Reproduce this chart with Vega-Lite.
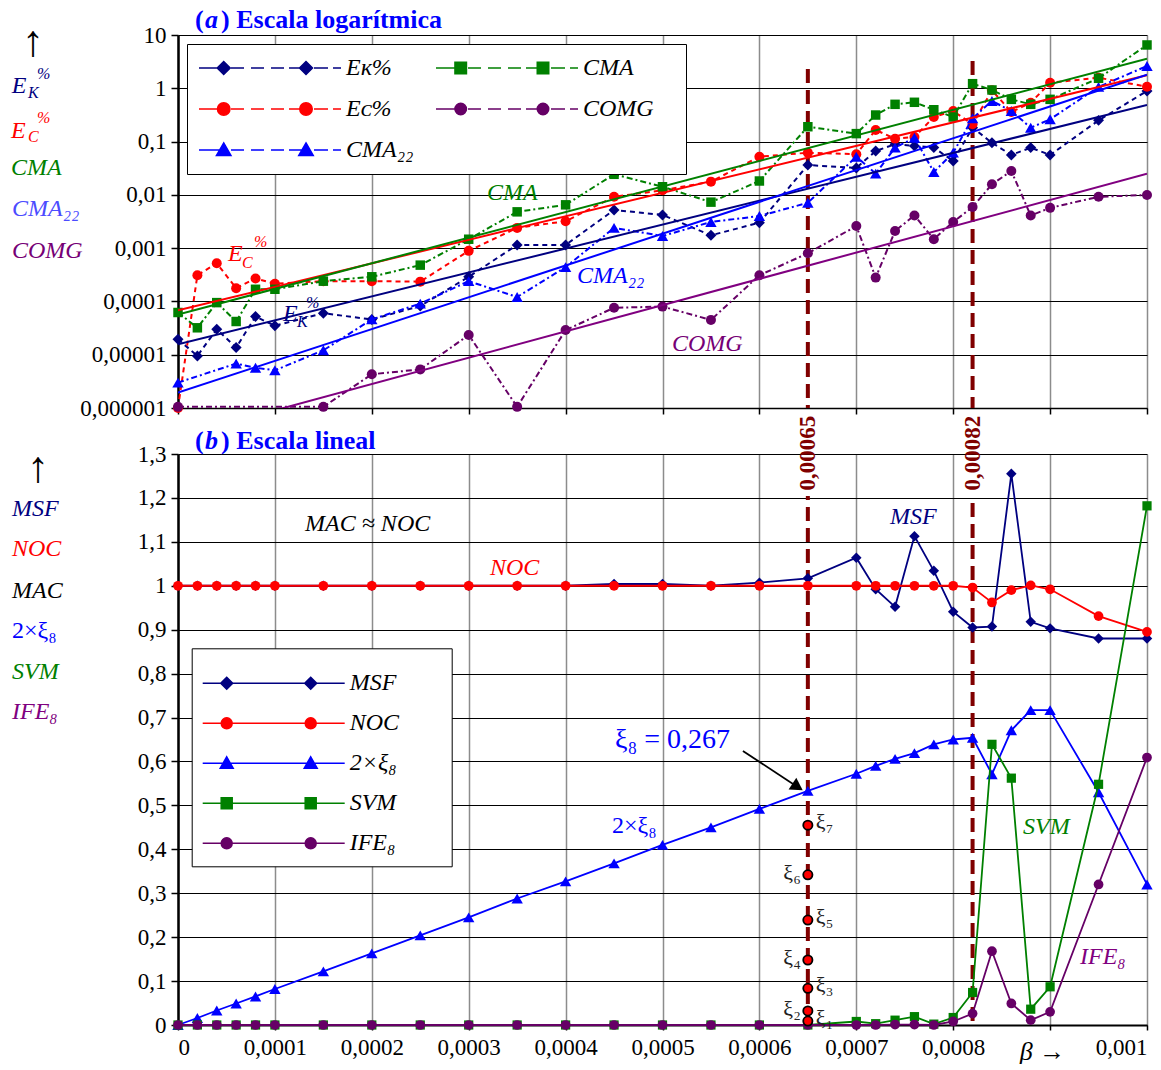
{
  "$schema": "https://vega.github.io/schema/vega-lite/v6.json",
  "padding": {"left": 11, "top": 6, "right": 0, "bottom": 0},
  "spacing": 46,
  "bounds": "flush",
  "datasets": {
    "top": [
      {"x":0,"EK":1.95e-5,"EC":1e-6,"CMA":6.2e-5,"CMA22":3.0e-6,"COMG":1.05e-6},
      {"x":0.00002,"EK":9.5e-6,"EC":3.1e-4,"CMA":3.2e-5},
      {"x":0.00004,"EK":3.0e-5,"EC":5.2e-4,"CMA":9.5e-5},
      {"x":0.00006,"EK":1.36e-5,"EC":1.77e-4,"CMA":4.2e-5,"CMA22":6.8e-6},
      {"x":0.00008,"EK":5.2e-5,"EC":2.7e-4,"CMA":1.69e-4,"CMA22":5.7e-6},
      {"x":0.0001,"EK":3.5e-5,"EC":2.15e-4,"CMA":1.69e-4,"CMA22":5.1e-6},
      {"x":0.00015,"EK":6.0e-5,"EC":2.4e-4,"CMA":2.4e-4,"CMA22":1.21e-5,"COMG":1.05e-6},
      {"x":0.0002,"EK":4.6e-5,"EC":2.4e-4,"CMA":2.9e-4,"CMA22":4.6e-5,"COMG":4.3e-6},
      {"x":0.00025,"EK":8.2e-5,"EC":2.35e-4,"CMA":4.8e-4,"CMA22":9.1e-5,"COMG":5.3e-6},
      {"x":0.0003,"EK":2.9e-4,"EC":8.9e-4,"CMA":1.47e-3,"CMA22":2.4e-4,"COMG":2.35e-5},
      {"x":0.00035,"EK":1.15e-3,"EC":2.4e-3,"CMA":4.8e-3,"CMA22":1.21e-4,"COMG":1.05e-6},
      {"x":0.0004,"EK":1.15e-3,"EC":3.2e-3,"CMA":6.5e-3,"CMA22":4.4e-4,"COMG":2.9e-5},
      {"x":0.00045,"EK":5.2e-3,"EC":9.2e-3,"CMA":0.0243,"CMA22":2.4e-3,"COMG":7.6e-5},
      {"x":0.0005,"EK":4.2e-3,"EC":0.0122,"CMA":0.0142,"CMA22":1.69e-3,"COMG":8.0e-5},
      {"x":0.00055,"EK":1.74e-3,"EC":0.0177,"CMA":7.3e-3,"CMA22":3.1e-3,"COMG":4.5e-5},
      {"x":0.0006,"EK":3.0e-3,"EC":0.052,"CMA":0.0182,"CMA22":4.0e-3,"COMG":3.1e-4},
      {"x":0.00065,"EK":0.0363,"EC":0.0618,"CMA":0.19,"CMA22":7.1e-3,"COMG":8.0e-4},
      {"x":0.0007,"EK":0.032,"EC":0.058,"CMA":0.141,"CMA22":0.052,"COMG":2.6e-3},
      {"x":0.00072,"EK":0.0665,"EC":0.165,"CMA":0.315,"CMA22":0.025,"COMG":2.8e-4},
      {"x":0.00074,"EK":0.089,"EC":0.113,"CMA":0.5,"CMA22":0.077,"COMG":2.1e-3},
      {"x":0.00076,"EK":0.083,"EC":0.122,"CMA":0.546,"CMA22":0.118,"COMG":4.1e-3},
      {"x":0.00078,"EK":0.077,"EC":0.289,"CMA":0.396,"CMA22":0.0268,"COMG":1.47e-3},
      {"x":0.0008,"EK":0.0432,"EC":0.375,"CMA":0.289,"CMA22":0.062,"COMG":3.1e-3},
      {"x":0.00082,"EK":0.182,"EC":0.211,"CMA":1.22,"CMA22":0.274,"COMG":5.9e-3},
      {"x":0.00084,"EK":0.095,"EC":0.916,"CMA":0.93,"CMA22":0.578,"COMG":0.0158},
      {"x":0.00086,"EK":0.056,"EC":0.359,"CMA":0.62,"CMA22":0.375,"COMG":0.028},
      {"x":0.00088,"EK":0.077,"EC":0.537,"CMA":0.5,"CMA22":0.182,"COMG":4.1e-3},
      {"x":0.0009,"EK":0.056,"EC":1.27,"CMA":0.62,"CMA22":0.262,"COMG":5.7e-3},
      {"x":0.00095,"EK":0.25,"EC":1.58,"CMA":1.54,"CMA22":1.06,"COMG":9.2e-3},
      {"x":0.001,"EK":0.89,"EC":1.07,"CMA":6.5,"CMA22":2.62,"COMG":0.00995}
    ],
    "trendTop": [
      {"x":0,"EK":1.57e-5,"EC":6.8e-5,"CMA":5.7e-5,"CMA22":1.94e-6,"COMG":2.9e-7},
      {"x":0.001,"EK":0.485,"EC":1.75,"CMA":3.6,"CMA22":1.8,"COMG":0.025}
    ],
    "bottom": [
      {"x":0,"MSF":1,"NOC":1,"XI":0,"SVM":0,"IFE":0},
      {"x":0.00002,"MSF":1,"NOC":1,"XI":0.016,"SVM":0,"IFE":0},
      {"x":0.00004,"MSF":1,"NOC":1,"XI":0.033,"SVM":0,"IFE":0},
      {"x":0.00006,"MSF":1,"NOC":1,"XI":0.049,"SVM":0,"IFE":0},
      {"x":0.00008,"MSF":1,"NOC":1,"XI":0.065,"SVM":0,"IFE":0},
      {"x":0.0001,"MSF":1,"NOC":1,"XI":0.082,"SVM":0,"IFE":0},
      {"x":0.00015,"MSF":1,"NOC":1,"XI":0.122,"SVM":0,"IFE":0},
      {"x":0.0002,"MSF":1,"NOC":1,"XI":0.163,"SVM":0,"IFE":0},
      {"x":0.00025,"MSF":1,"NOC":1,"XI":0.204,"SVM":0,"IFE":0},
      {"x":0.0003,"MSF":1,"NOC":1,"XI":0.245,"SVM":0,"IFE":0},
      {"x":0.00035,"MSF":1,"NOC":1,"XI":0.288,"SVM":0,"IFE":0},
      {"x":0.0004,"MSF":1,"NOC":1,"XI":0.327,"SVM":0,"IFE":0},
      {"x":0.00045,"MSF":1.004,"NOC":1,"XI":0.368,"SVM":0,"IFE":0},
      {"x":0.0005,"MSF":1.004,"NOC":1,"XI":0.41,"SVM":0,"IFE":0},
      {"x":0.00055,"MSF":1.0,"NOC":1,"XI":0.45,"SVM":0,"IFE":0},
      {"x":0.0006,"MSF":1.007,"NOC":1,"XI":0.492,"SVM":0,"IFE":0},
      {"x":0.00065,"MSF":1.017,"NOC":1,"XI":0.533,"SVM":0,"IFE":0},
      {"x":0.0007,"MSF":1.064,"NOC":1,"XI":0.572,"SVM":0.008,"IFE":0},
      {"x":0.00072,"MSF":0.992,"NOC":1,"XI":0.59,"SVM":0.003,"IFE":0},
      {"x":0.00074,"MSF":0.952,"NOC":1,"XI":0.606,"SVM":0.011,"IFE":0.001},
      {"x":0.00076,"MSF":1.113,"NOC":1,"XI":0.619,"SVM":0.019,"IFE":0.001},
      {"x":0.00078,"MSF":1.034,"NOC":1,"XI":0.639,"SVM":0.002,"IFE":0},
      {"x":0.0008,"MSF":0.941,"NOC":1,"XI":0.65,"SVM":0.017,"IFE":0.008},
      {"x":0.00082,"MSF":0.905,"NOC":0.996,"XI":0.654,"SVM":0.074,"IFE":0.026},
      {"x":0.00084,"MSF":0.907,"NOC":0.962,"XI":0.571,"SVM":0.639,"IFE":0.168},
      {"x":0.00086,"MSF":1.255,"NOC":0.99,"XI":0.671,"SVM":0.562,"IFE":0.049},
      {"x":0.00088,"MSF":0.918,"NOC":1.001,"XI":0.717,"SVM":0.036,"IFE":0.011},
      {"x":0.0009,"MSF":0.903,"NOC":0.992,"XI":0.717,"SVM":0.087,"IFE":0.03},
      {"x":0.00095,"MSF":0.88,"NOC":0.931,"XI":0.53,"SVM":0.548,"IFE":0.32},
      {"x":0.001,"MSF":0.88,"NOC":0.895,"XI":0.32,"SVM":1.182,"IFE":0.609}
    ],
    "xi": [
      {"x":0.00065,"v":0.455,"k":7,"lab":"ξ₇"},
      {"x":0.00065,"v":0.342,"k":6,"lab":"ξ₆"},
      {"x":0.00065,"v":0.239,"k":5,"lab":"ξ₅"},
      {"x":0.00065,"v":0.148,"k":4,"lab":"ξ₄"},
      {"x":0.00065,"v":0.0835,"k":3,"lab":"ξ₃"},
      {"x":0.00065,"v":0.032,"k":2,"lab":"ξ₂"},
      {"x":0.00065,"v":0.009,"k":1,"lab":"ξ₁"}
    ],
    "legTop": [{"s":"Eᴋ%"},{"s":"Eᴄ%"},{"s":"CMA₂₂"},{"s":"CMA"},{"s":"COMG"}],
    "legBot": [{"s":"MSF"},{"s":"NOC"},{"s":"2×ξ₈"},{"s":"SVM"},{"s":"IFE₈"}]
  },
  "vconcat": [
    {
      "width": 969,
      "height": 373,
      "data": {"name": "top"},
      "encoding": {
        "x": {"field": "x", "type": "quantitative",
          "scale": {"domain": [0, 0.001], "nice": false, "zero": false},
          "axis": {"values": [0,0.0001,0.0002,0.0003,0.0004,0.0005,0.0006,0.0007,0.0008,0.0009,0.001], "labels": false, "title": null, "grid": true, "gridColor": "#8c8c8c", "gridWidth": 1.5, "domainColor": "black", "domainWidth": 1.5, "tickColor": "black", "tickSize": 6, "tickWidth": 1.5}}
      },
      "layer": [
        {"data": {"values": [{"x":0.00065,"v":2.3,"v2":1e-6},{"x":0.00082,"v":3.25,"v2":1e-6}]},
         "mark": {"type": "rule", "color": "#800000", "strokeWidth": 4, "strokeDash": [14, 7]},
         "encoding": {"y": {"field": "v", "type": "quantitative", "axis": {"title": null}}, "y2": {"field": "v2"}}},
        {"mark": {"type": "line", "color": "#000080", "strokeWidth": 2, "strokeDash": [5, 4], "invalid": "filter", "point": {"shape": "diamond", "filled": true, "size": 120, "opacity": 1, "color": "#000080"}},
         "encoding": {"y": {"field": "EK", "type": "quantitative",
           "scale": {"type": "log", "domain": [0.000001, 10], "nice": false},
           "axis": {"values": [0.000001,0.00001,0.0001,0.001,0.01,0.1,1,10], "labelExpr": "replace(format(datum.value, '~f'), '.', ',')", "title": null, "grid": true, "gridColor": "black", "gridWidth": 1, "domainColor": "black", "domainWidth": 2.5, "tickColor": "black", "tickSize": 7, "tickWidth": 1.5, "labelPadding": 5, "labelFont": "Liberation Serif", "labelFontSize": 23, "labelColor": "black"}}}},
        {"mark": {"type": "line", "color": "#ff0000", "strokeWidth": 2, "strokeDash": [5, 4], "invalid": "filter", "point": {"shape": "circle", "filled": true, "size": 100, "opacity": 1, "color": "#ff0000"}},
         "encoding": {"y": {"field": "EC", "type": "quantitative", "axis": {"title": null}}}},
        {"mark": {"type": "line", "color": "#0000ff", "strokeWidth": 2, "strokeDash": [6, 3, 2, 3], "invalid": "filter", "point": {"shape": "triangle-up", "filled": true, "size": 130, "opacity": 1, "color": "#0000ff"}},
         "encoding": {"y": {"field": "CMA22", "type": "quantitative", "axis": {"title": null}}}},
        {"mark": {"type": "line", "color": "#008000", "strokeWidth": 2, "strokeDash": [6, 3, 2, 3], "invalid": "filter", "point": {"shape": "square", "filled": true, "size": 90, "opacity": 1, "color": "#008000"}},
         "encoding": {"y": {"field": "CMA", "type": "quantitative", "axis": {"title": null}}}},
        {"mark": {"type": "line", "color": "#660066", "strokeWidth": 2, "strokeDash": [6, 3, 2, 3], "invalid": "filter", "point": {"shape": "circle", "filled": true, "size": 100, "opacity": 1, "color": "#660066"}},
         "encoding": {"y": {"field": "COMG", "type": "quantitative", "axis": {"title": null}}}},
        {"data": {"name": "trendTop"}, "mark": {"type": "line", "color": "#000080", "strokeWidth": 2, "clip": true},
         "encoding": {"y": {"field": "EK", "type": "quantitative", "axis": {"title": null}}}},
        {"data": {"name": "trendTop"}, "mark": {"type": "line", "color": "#ff0000", "strokeWidth": 2, "clip": true},
         "encoding": {"y": {"field": "EC", "type": "quantitative", "axis": {"title": null}}}},
        {"data": {"name": "trendTop"}, "mark": {"type": "line", "color": "#0000ff", "strokeWidth": 2, "clip": true},
         "encoding": {"y": {"field": "CMA22", "type": "quantitative", "axis": {"title": null}}}},
        {"data": {"name": "trendTop"}, "mark": {"type": "line", "color": "#008000", "strokeWidth": 2, "clip": true},
         "encoding": {"y": {"field": "CMA", "type": "quantitative", "axis": {"title": null}}}},
        {"data": {"name": "trendTop"}, "mark": {"type": "line", "color": "#800080", "strokeWidth": 2, "clip": true},
         "encoding": {"y": {"field": "COMG", "type": "quantitative", "axis": {"title": null}}}},

        {"data": {"values": [{"x": 0.0000175, "v": 13.7, "t": "("}, {"x": 0.0000444, "v": 13.7, "t": ") Escala logarítmica"}]},
         "mark": {"type": "text", "font": "Liberation Serif", "fontSize": 26, "fontWeight": "bold", "align": "left", "baseline": "alphabetic", "color": "#0000ff"},
         "encoding": {"y": {"field": "v", "type": "quantitative", "axis": {"title": null}}, "text": {"field": "t"}}},
        {"data": {"values": [{"x": 0.0000279, "v": 13.7, "t": "a"}]},
         "mark": {"type": "text", "font": "Liberation Serif", "fontSize": 26, "fontWeight": "bold", "fontStyle": "italic", "align": "left", "baseline": "alphabetic", "color": "#0000ff"},
         "encoding": {"y": {"field": "v", "type": "quantitative", "axis": {"title": null}}, "text": {"field": "t"}}},

        {"data": {"values": [{"x": -0.0001496, "v": 7.08, "t": "↑"}]},
         "mark": {"type": "text", "font": "Liberation Serif", "fontSize": 44, "align": "center", "baseline": "middle", "color": "black"},
         "encoding": {"y": {"field": "v", "type": "quantitative", "axis": {"title": null}}, "text": {"field": "t"}}},
        {"data": {"values": [{"x": -0.0001716, "v": 0.826, "t": "E"}, {"x": 0.0001084, "v": 0.000043, "t": "E"}]},
         "mark": {"type": "text", "font": "Liberation Serif", "fontSize": 24, "fontStyle": "italic", "align": "left", "baseline": "alphabetic", "color": "#000080"},
         "encoding": {"y": {"field": "v", "type": "quantitative", "axis": {"title": null}}, "text": {"field": "t"}}},
        {"data": {"values": [{"x": -0.0001548, "v": 0.657, "t": "K"}, {"x": -0.0001455, "v": 1.494, "t": "%"}, {"x": 0.0001228, "v": 0.0000332, "t": "K"}, {"x": 0.0001321, "v": 0.0000753, "t": "%"}]},
         "mark": {"type": "text", "font": "Liberation Serif", "fontSize": 16, "fontStyle": "italic", "align": "left", "baseline": "alphabetic", "color": "#000080"},
         "encoding": {"y": {"field": "v", "type": "quantitative", "axis": {"title": null}}, "text": {"field": "t"}}},
        {"data": {"values": [{"x": -0.0001723, "v": 0.118, "t": "E"}, {"x": 0.0000516, "v": 0.000574, "t": "E"}]},
         "mark": {"type": "text", "font": "Liberation Serif", "fontSize": 24, "fontStyle": "italic", "align": "left", "baseline": "alphabetic", "color": "#ff0000"},
         "encoding": {"y": {"field": "v", "type": "quantitative", "axis": {"title": null}}, "text": {"field": "t"}}},
        {"data": {"values": [{"x": -0.0001548, "v": 0.0982, "t": "C"}, {"x": -0.0001455, "v": 0.2233, "t": "%"}, {"x": 0.000066, "v": 0.000425, "t": "C"}, {"x": 0.0000784, "v": 0.00105, "t": "%"}]},
         "mark": {"type": "text", "font": "Liberation Serif", "fontSize": 16, "fontStyle": "italic", "align": "left", "baseline": "alphabetic", "color": "#ff0000"},
         "encoding": {"y": {"field": "v", "type": "quantitative", "axis": {"title": null}}, "text": {"field": "t"}}},
        {"data": {"values": [{"x": -0.0001723, "v": 0.0236, "t": "CMA"}, {"x": 0.0003189, "v": 0.00801, "t": "CMA"}]},
         "mark": {"type": "text", "font": "Liberation Serif", "fontSize": 24, "fontStyle": "italic", "align": "left", "baseline": "alphabetic", "color": "#008000"},
         "encoding": {"y": {"field": "v", "type": "quantitative", "axis": {"title": null}}, "text": {"field": "t"}}},
        {"data": {"values": [{"x": -0.0001713, "v": 0.004014, "t": "CMA₂₂"}]},
         "mark": {"type": "text", "font": "Liberation Serif", "fontSize": 24, "fontStyle": "italic", "align": "left", "baseline": "alphabetic", "color": "#4c4cff"},
         "encoding": {"y": {"field": "v", "type": "quantitative", "axis": {"title": null}}, "text": {"field": "t"}}},
        {"data": {"values": [{"x": 0.0004118, "v": 0.000222, "t": "CMA₂₂"}]},
         "mark": {"type": "text", "font": "Liberation Serif", "fontSize": 24, "fontStyle": "italic", "align": "left", "baseline": "alphabetic", "color": "#0000ff"},
         "encoding": {"y": {"field": "v", "type": "quantitative", "axis": {"title": null}}, "text": {"field": "t"}}},
        {"data": {"values": [{"x": -0.0001713, "v": 0.000662, "t": "COMG"}, {"x": 0.0005098, "v": 0.00001175, "t": "COMG"}]},
         "mark": {"type": "text", "font": "Liberation Serif", "fontSize": 24, "fontStyle": "italic", "align": "left", "baseline": "alphabetic", "color": "#760076"},
         "encoding": {"y": {"field": "v", "type": "quantitative", "axis": {"title": null}}, "text": {"field": "t"}}},

        {"data": {"name": "legTop"}, "mark": {"type": "point", "filled": true, "opacity": 1, "clip": true},
         "encoding": {
           "x": {"datum": -1}, "y": {"datum": 1},
           "color": {"field": "s", "type": "nominal",
             "scale": {"domain": ["Eᴋ%", "Eᴄ%", "CMA₂₂", "CMA", "COMG"], "range": ["#000080", "#ff0000", "#0000ff", "#008000", "#660066"]},
             "legend": {"title": null, "orient": "none", "legendX": 9, "legendY": 9, "columns": 2, "columnPadding": 19, "rowPadding": 17, "padding": 12, "labelOffset": 123, "labelFont": "Liberation Serif", "labelFontSize": 24, "labelFontStyle": "italic", "labelColor": "black", "symbolSize": 100, "symbolStrokeWidth": 1.5, "strokeColor": "black", "fillColor": "white"}},
           "stroke": {"field": "s", "type": "nominal",
             "scale": {"domain": ["Eᴋ%", "Eᴄ%", "CMA₂₂", "CMA", "COMG"], "range": ["#000080", "#ff0000", "#0000ff", "#008000", "#660066"]}},
           "shape": {"field": "s", "type": "nominal",
             "scale": {"domain": ["Eᴋ%", "Eᴄ%", "CMA₂₂", "CMA", "COMG"], "range": [
               "M-2.4,0H2.54M4,0H6.6M8,0H10.6M12,0H14.6M15.6,0H19M20.6,0H23.4M24.4,0H26M2.54,-1.3L3.84,0L2.54,1.3L1.24,0ZM19,-1.3L20.3,0L19,1.3L17.7,0Z",
               "M-2.4,0H2.54M4,0H6.6M8,0H10.6M12,0H14.6M15.6,0H19M20.6,0H23.4M24.4,0H26M1.29,0A1.25,1.25,0,1,0,3.79,0A1.25,1.25,0,1,0,1.29,0ZM17.75,0A1.25,1.25,0,1,0,20.25,0A1.25,1.25,0,1,0,17.75,0Z",
               "M-2.4,0H2.54M4,0H6.6M8,0H10.6M12,0H14.6M15.6,0H19M20.6,0H23.4M24.4,0H26M2.54,-1.4L3.99,1.1L1.09,1.1ZM19,-1.4L20.45,1.1L17.55,1.1Z",
               "M-2.4,0H2.54M4,0H6.6M8,0H10.6M12,0H14.6M15.6,0H19M20.6,0H23.4M24.4,0H26M1.39,-1.15H3.69V1.15H1.39ZM17.85,-1.15H20.15V1.15H17.85ZM44.5,0",
               "M-2.4,0H2.54M4,0H6.6M8,0H10.6M12,0H14.6M15.6,0H19M20.6,0H23.4M24.4,0H26M1.39,0A1.15,1.15,0,1,0,3.69,0A1.15,1.15,0,1,0,1.39,0ZM17.85,0A1.15,1.15,0,1,0,20.15,0A1.15,1.15,0,1,0,17.85,0ZM44.5,0"
             ]}}
         }}
      ]
    },
    {
      "width": 969,
      "height": 571,
      "data": {"name": "bottom"},
      "encoding": {
        "x": {"field": "x", "type": "quantitative",
          "scale": {"domain": [0, 0.001], "nice": false, "zero": false},
          "axis": {"values": [0,0.0001,0.0002,0.0003,0.0004,0.0005,0.0006,0.0007,0.0008,0.0009,0.001],
            "labelExpr": "(datum.value > 0.00089 && datum.value < 0.00091) ? '' : replace(format(datum.value, '.4~f'), '.', ',')",
            "labelOverlap": false, "labelFont": "Liberation Serif", "labelFontSize": 23, "labelColor": "black", "labelPadding": 6,
            "title": "β →", "titleFont": "Liberation Serif", "titleFontSize": 26, "titleFontStyle": "italic", "titleFontWeight": "normal", "titleColor": "black", "titleX": 864, "titleY": 34, "titleAlign": "center", "titleBaseline": "alphabetic",
            "grid": true, "gridColor": "#8c8c8c", "gridWidth": 1.5, "domainColor": "black", "domainWidth": 2, "tickColor": "black", "tickSize": 5, "tickWidth": 1.5,
            "encode": {"labels": {"update": {"align": {"signal": "datum.value > 0.00099 ? 'right' : 'center'"}, "dx": {"signal": "datum.value > 0.00099 ? 10 : 0"}}}}}}
      },
      "layer": [
        {"data": {"values": [{"x":0.00065,"v":0,"v2":1.2045},{"x":0.00082,"v":0.009,"v2":1.2045}]},
         "mark": {"type": "rule", "color": "#800000", "strokeWidth": 4, "strokeDash": [14, 7]},
         "encoding": {"y": {"field": "v", "type": "quantitative", "axis": {"title": null}}, "y2": {"field": "v2"}}},
        {"mark": {"type": "line", "color": "#000080", "strokeWidth": 1.8, "point": {"shape": "diamond", "filled": true, "size": 110, "opacity": 1, "color": "#000080"}},
         "encoding": {"y": {"field": "MSF", "type": "quantitative",
           "scale": {"domain": [0, 1.3], "nice": false, "zero": false},
           "axis": {"values": [0,0.1,0.2,0.3,0.4,0.5,0.6,0.7,0.8,0.9,1,1.1,1.2,1.3], "labelExpr": "replace(format(datum.value, '.1~f'), '.', ',')", "title": null, "grid": true, "gridColor": "black", "gridWidth": 1, "domainColor": "black", "domainWidth": 2.5, "tickColor": "black", "tickSize": 7, "tickWidth": 1.5, "labelPadding": 5, "labelFont": "Liberation Serif", "labelFontSize": 23, "labelColor": "black"}}}},
        {"mark": {"type": "line", "color": "#ff0000", "strokeWidth": 1.8, "point": {"shape": "circle", "filled": true, "size": 95, "opacity": 1, "color": "#ff0000"}},
         "encoding": {"y": {"field": "NOC", "type": "quantitative", "axis": {"title": null}}}},
        {"mark": {"type": "line", "color": "#0000ff", "strokeWidth": 1.8, "point": {"shape": "triangle-up", "filled": true, "size": 130, "opacity": 1, "color": "#0000ff"}},
         "encoding": {"y": {"field": "XI", "type": "quantitative", "axis": {"title": null}}}},
        {"mark": {"type": "line", "color": "#008000", "strokeWidth": 1.8, "point": {"shape": "square", "filled": true, "size": 85, "opacity": 1, "color": "#008000"}},
         "encoding": {"y": {"field": "SVM", "type": "quantitative", "axis": {"title": null}}}},
        {"mark": {"type": "line", "color": "#660066", "strokeWidth": 1.8, "point": {"shape": "circle", "filled": true, "size": 95, "opacity": 1, "color": "#660066"}},
         "encoding": {"y": {"field": "IFE", "type": "quantitative", "axis": {"title": null}}}},
        {"data": {"name": "xi"}, "mark": {"type": "point", "filled": true, "fill": "#ff0000", "stroke": "black", "strokeWidth": 1.8, "size": 85, "opacity": 1},
         "encoding": {"y": {"field": "v", "type": "quantitative", "axis": {"title": null}}}},
        {"data": {"name": "xi"}, "transform": [{"filter": "datum.k % 2 == 1"}], "mark": {"type": "text", "font": "Liberation Serif", "fontSize": 22, "align": "left", "baseline": "middle", "dx": 8, "dy": -3, "color": "#222222"},
         "encoding": {"y": {"field": "v", "type": "quantitative", "axis": {"title": null}}, "text": {"field": "lab"}}},
        {"data": {"name": "xi"}, "transform": [{"filter": "datum.k % 2 == 0"}], "mark": {"type": "text", "font": "Liberation Serif", "fontSize": 22, "align": "right", "baseline": "middle", "dx": -7, "dy": -2, "color": "#222222"},
         "encoding": {"y": {"field": "v", "type": "quantitative", "axis": {"title": null}}, "text": {"field": "lab"}}},

        {"data": {"values": [{"x": 0.000583, "v": 0.6239, "x2": 0.0006394, "v2": 0.5419}]},
         "mark": {"type": "rule", "color": "black", "strokeWidth": 1.8},
         "encoding": {"y": {"field": "v", "type": "quantitative", "axis": {"title": null}}, "x2": {"field": "x2"}, "y2": {"field": "v2"}}},
        {"data": {"values": [{"x": 0.0006394, "v": 0.5419}]},
         "mark": {"type": "point", "shape": "triangle-up", "filled": true, "color": "black", "size": 200, "angle": 123, "opacity": 1},
         "encoding": {"y": {"field": "v", "type": "quantitative", "axis": {"title": null}}}},

        {"data": {"values": [{"x": 0.0000175, "v": 1.3114, "t": "("}, {"x": 0.0000444, "v": 1.3114, "t": ") Escala lineal"}]},
         "mark": {"type": "text", "font": "Liberation Serif", "fontSize": 26, "fontWeight": "bold", "align": "left", "baseline": "alphabetic", "color": "#0000ff"},
         "encoding": {"y": {"field": "v", "type": "quantitative", "axis": {"title": null}}, "text": {"field": "t"}}},
        {"data": {"values": [{"x": 0.0000279, "v": 1.3114, "t": "b"}]},
         "mark": {"type": "text", "font": "Liberation Serif", "fontSize": 26, "fontWeight": "bold", "fontStyle": "italic", "align": "left", "baseline": "alphabetic", "color": "#0000ff"},
         "encoding": {"y": {"field": "v", "type": "quantitative", "axis": {"title": null}}, "text": {"field": "t"}}},

        {"data": {"values": [{"x": 0.00065, "v": 1.302, "t": "0,00065"}, {"x": 0.00082, "v": 1.302, "t": "0,00082"}]},
         "mark": {"type": "text", "font": "Liberation Serif", "fontSize": 23, "fontWeight": "bold", "angle": 270, "align": "center", "baseline": "middle", "color": "#800000"},
         "encoding": {"y": {"field": "v", "type": "quantitative", "axis": {"title": null}}, "text": {"field": "t"}}},
        {"data": {"values": [{"x": -0.0001445, "v": 1.266, "t": "↑"}]},
         "mark": {"type": "text", "font": "Liberation Serif", "fontSize": 44, "align": "center", "baseline": "middle", "color": "black"},
         "encoding": {"y": {"field": "v", "type": "quantitative", "axis": {"title": null}}, "text": {"field": "t"}}},
        {"data": {"values": [{"x": -0.0001713, "v": 1.159, "t": "MSF"}, {"x": 0.0007348, "v": 1.1407, "t": "MSF"}]},
         "mark": {"type": "text", "font": "Liberation Serif", "fontSize": 24, "fontStyle": "italic", "align": "left", "baseline": "alphabetic", "color": "#000080"},
         "encoding": {"y": {"field": "v", "type": "quantitative", "axis": {"title": null}}, "text": {"field": "t"}}},
        {"data": {"values": [{"x": -0.0001713, "v": 1.068, "t": "NOC"}, {"x": 0.000322, "v": 1.0246, "t": "NOC"}]},
         "mark": {"type": "text", "font": "Liberation Serif", "fontSize": 24, "fontStyle": "italic", "align": "left", "baseline": "alphabetic", "color": "#ff0000"},
         "encoding": {"y": {"field": "v", "type": "quantitative", "axis": {"title": null}}, "text": {"field": "t"}}},
        {"data": {"values": [{"x": -0.0001713, "v": 0.973, "t": "MAC"}, {"x": 0.0001311, "v": 1.1248, "t": "MAC ≈ NOC"}]},
         "mark": {"type": "text", "font": "Liberation Serif", "fontSize": 24, "fontStyle": "italic", "align": "left", "baseline": "alphabetic", "color": "black"},
         "encoding": {"y": {"field": "v", "type": "quantitative", "axis": {"title": null}}, "text": {"field": "t"}}},
        {"data": {"values": [{"x": -0.0001713, "v": 0.881, "t": "2×ξ₈"}, {"x": 0.0004479, "v": 0.4378, "t": "2×ξ₈"}]},
         "mark": {"type": "text", "font": "Liberation Serif", "fontSize": 24, "align": "left", "baseline": "alphabetic", "color": "#0000ff"},
         "encoding": {"y": {"field": "v", "type": "quantitative", "axis": {"title": null}}, "text": {"field": "t"}}},
        {"data": {"values": [{"x": -0.0001713, "v": 0.788, "t": "SVM"}, {"x": 0.000872, "v": 0.4349, "t": "SVM"}]},
         "mark": {"type": "text", "font": "Liberation Serif", "fontSize": 24, "fontStyle": "italic", "align": "left", "baseline": "alphabetic", "color": "#008000"},
         "encoding": {"y": {"field": "v", "type": "quantitative", "axis": {"title": null}}, "text": {"field": "t"}}},
        {"data": {"values": [{"x": -0.0001713, "v": 0.697, "t": "IFE₈"}, {"x": 0.0009309, "v": 0.1382, "t": "IFE₈"}]},
         "mark": {"type": "text", "font": "Liberation Serif", "fontSize": 24, "fontStyle": "italic", "align": "left", "baseline": "alphabetic", "color": "#800080"},
         "encoding": {"y": {"field": "v", "type": "quantitative", "axis": {"title": null}}, "text": {"field": "t"}}},
        {"data": {"values": [{"x": 0.000451, "v": 0.6314, "t": "ξ₈ = 0,267"}]},
         "mark": {"type": "text", "font": "Liberation Serif", "fontSize": 28, "align": "left", "baseline": "alphabetic", "color": "#0000ff"},
         "encoding": {"y": {"field": "v", "type": "quantitative", "axis": {"title": null}}, "text": {"field": "t"}}},

        {"data": {"name": "legBot"}, "mark": {"type": "point", "filled": true, "opacity": 1, "clip": true},
         "encoding": {
           "x": {"datum": -1}, "y": {"datum": 0.5},
           "color": {"field": "s", "type": "nominal",
             "scale": {"domain": ["MSF", "NOC", "2×ξ₈", "SVM", "IFE₈"], "range": ["#000080", "#ff0000", "#0000ff", "#008000", "#660066"]},
             "legend": {"title": " ", "titleFontSize": 10, "titlePadding": 2, "orient": "none", "legendX": 13.7, "legendY": 194.3, "rowPadding": 16, "padding": 11, "labelOffset": 123, "labelFont": "Liberation Serif", "labelFontSize": 24, "labelFontStyle": "italic", "labelColor": "black", "symbolSize": 100, "symbolStrokeWidth": 1.5, "strokeColor": "black", "fillColor": "white"}},
           "stroke": {"field": "s", "type": "nominal",
             "scale": {"domain": ["MSF", "NOC", "2×ξ₈", "SVM", "IFE₈"], "range": ["#000080", "#ff0000", "#0000ff", "#008000", "#660066"]}},
           "shape": {"field": "s", "type": "nominal",
             "scale": {"domain": ["MSF", "NOC", "2×ξ₈", "SVM", "IFE₈"], "range": [
               "M-2.4,0H26M2.4,-1.2L3.6,0L2.4,1.2L1.2,0ZM19.2,-1.2L20.4,0L19.2,1.2L18,0ZM44.5,0",
               "M-2.4,0H26M1.3,0A1.1,1.1,0,1,0,3.5,0A1.1,1.1,0,1,0,1.3,0ZM18.1,0A1.1,1.1,0,1,0,20.3,0A1.1,1.1,0,1,0,18.1,0ZM44.5,0",
               "M-2.4,0H26M2.4,-1.3L3.7,1L1.1,1ZM19.2,-1.3L20.5,1L17.9,1ZM44.5,0",
               "M-2.4,0H26M1.3,-1.1H3.5V1.1H1.3ZM18.1,-1.1H20.3V1.1H18.1ZM44.5,0",
               "M-2.4,0H26M1.3,0A1.1,1.1,0,1,0,3.5,0A1.1,1.1,0,1,0,1.3,0ZM18.1,0A1.1,1.1,0,1,0,20.3,0A1.1,1.1,0,1,0,18.1,0ZM44.5,0"
             ]}}
         }}
      ]
    }
  ],
  "resolve": {"scale": {"color": "independent", "stroke": "independent", "shape": "independent"}},
  "config": {
    "view": {"stroke": null},
    "font": "Liberation Serif",
    "axis": {"labelFont": "Liberation Serif", "titleFont": "Liberation Serif"}
  }
}
